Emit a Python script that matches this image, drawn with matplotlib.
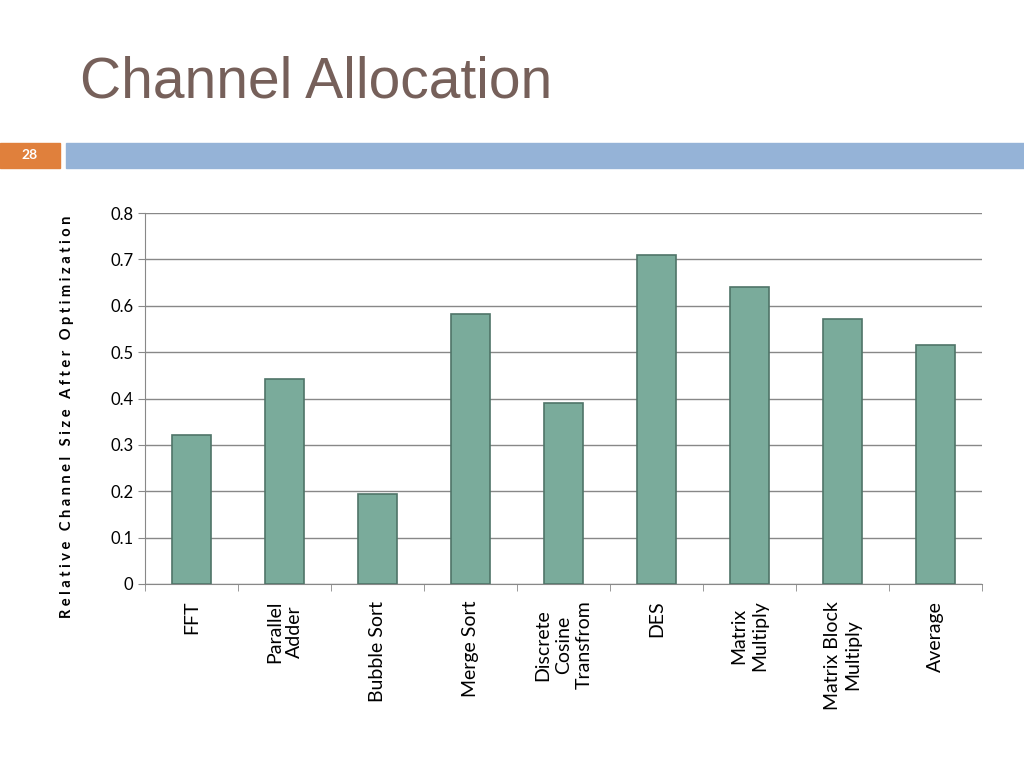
import matplotlib
matplotlib.use("Agg")
import matplotlib.pyplot as plt
import numpy as np

categories = ["FFT", "Parallel\nAdder", "Bubble Sort", "Merge Sort", "Discrete\nCosine\nTransfrom",
              "DES", "Matrix\nMultiply", "Matrix Block\nMultiply", "Average"]
values = [0.322, 0.443, 0.195, 0.583, 0.390, 0.709, 0.641, 0.571, 0.515]
yticks = [0, 0.1, 0.2, 0.3, 0.4, 0.5, 0.6, 0.7, 0.8]

plt.rcParams['font.family'] = ['Lato', 'DejaVu Sans']

fig = plt.figure(figsize=(10.24, 7.68), dpi=100)

# slide header
fig.text(80/1024, 1 - 83/768, "Channel Allocation", fontsize=41, color="#76605a",
         family="Liberation Sans", va="center", ha="left")
fig.patches.append(plt.Rectangle((66/1024, 1 - 168/768), 958/1024, 25/768,
                                 transform=fig.transFigure, color="#95b3d7"))
fig.patches.append(plt.Rectangle((0, 1 - 168/768), 60/1024, 25/768,
                                 transform=fig.transFigure, color="#e0803c"))
fig.text(30/1024, 1 - 155/768, "28", color="white", fontsize=10, weight="bold",
         ha="center", va="center")

ax = fig.add_axes([145/1024, 1 - 584/768, 837/1024, 371/768])
x = np.arange(len(categories))
ax.bar(x, values, width=0.41, color="#7aab9b", edgecolor="#4f7468", linewidth=1.2, zorder=3)
ax.set_xlim(-0.5, len(categories) - 0.5)
ax.set_ylim(0, 0.8)
ax.set_yticks(yticks)
ax.set_yticklabels([f"{t:g}" for t in yticks], fontsize=12)
ax.yaxis.grid(True, color="#888888", linewidth=1, zorder=0)
ax.set_xticks(x)
ax.set_xticklabels(categories, rotation=90, fontsize=14, va="top", ha="center",
                   linespacing=1.25)
ax.tick_params(axis="x", length=0, pad=12)
ax.set_xticks(np.arange(-0.5, len(categories)), minor=True)
ax.tick_params(axis="x", which="minor", length=5, color="#888888")
ax.tick_params(axis="y", length=5, color="#888888")
for s in ["top", "right"]:
    ax.spines[s].set_visible(False)
for s in ["left", "bottom"]:
    ax.spines[s].set_color("#888888")
ax.set_ylabel("R e l a t i v e   C h a n n e l   S i z e   A f t e r   O p t i m i z a t i o n",
              fontsize=10.5, weight="bold", labelpad=22)
ax.yaxis.set_label_coords(-0.085, 0.45)

fig.savefig("out.png", dpi=100)
